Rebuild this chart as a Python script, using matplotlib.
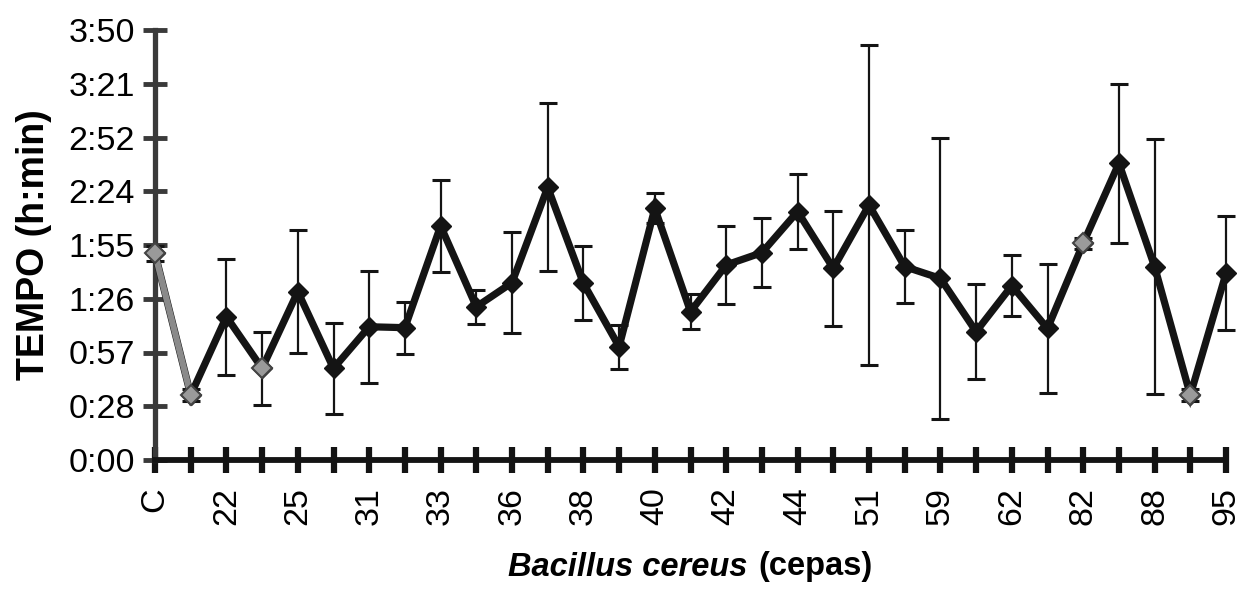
import matplotlib
matplotlib.use("Agg")
import matplotlib.pyplot as plt
from matplotlib.offsetbox import TextArea, HPacker, AnchoredOffsetbox

plt.rcParams['font.family'] = ['Liberation Sans', 'DejaVu Sans']
tick_size = 24.5

# ---- data (minutes) ----
categories = ["C", "", "22", "", "25", "", "31", "", "33", "", "36", "", "38", "",
              "40", "", "42", "", "44", "", "51", "", "59", "", "62", "", "82", "",
              "88", "", "95"]
means = [110.7, 34.8, 76.8, 49.1, 90.2, 49.1, 71.4, 70.9, 125.4, 82.1, 95.0,
         146.1, 94.7, 60.7, 134.8, 79.5, 104.5, 111.1, 133.1, 102.7, 136.6,
         103.6, 97.3, 68.8, 93.4, 70.5, 116.1, 159.0, 103.6, 34.8, 100.0]
errors = [4, 3, 31, 19.6, 33, 24.5, 30, 14, 24.7, 9, 27, 45, 19.7, 11.8, 8, 9.2,
          21, 18.5, 20, 30.8, 85.7, 19.7, 75.3, 25.5, 16.3, 34.7, 3, 42.6, 68.5,
          3, 30.5]
ytick_values = [0, 28.8, 57.6, 86.4, 115.2, 144.0, 172.8, 201.6, 230.4]
ytick_labels = ["0:00", "0:28", "0:57", "1:26", "1:55", "2:24", "2:52", "3:21", "3:50"]
grey_points = [0, 1, 3, 26, 29]

fig = plt.figure(figsize=(12.4, 5.89), dpi=100)
ax = fig.add_axes([155/1240, 1-460/589, (1226-155)/1240, 430/589])

x = list(range(len(means)))
dark = '#141414'
grey = '#8a8a8a'

ax.errorbar(x, means, yerr=errors, fmt='none', ecolor=dark, elinewidth=1.6,
            capsize=6.5, capthick=2.2, zorder=3, clip_on=False)
ax.plot(x, means, color=dark, lw=5.2, zorder=4, clip_on=False,
        marker='D', markersize=10, markerfacecolor=dark, markeredgecolor=dark,
        solid_joinstyle='miter')
# lighter (greyish) segment and markers as in the scan
ax.plot(x[0:2], means[0:2], color=grey, lw=4.5, zorder=5, clip_on=False)
ax.plot([x[i] for i in grey_points], [means[i] for i in grey_points],
        ls='none', marker='D', markersize=10, markerfacecolor='#9a9a9a',
        markeredgecolor='#444444', markeredgewidth=1.5, zorder=6, clip_on=False)

ax.set_xlim(0, len(means) - 1)
ax.set_ylim(0, 230.4)
ax.set_xticks(x)
ax.set_xticklabels(categories, rotation=90, fontsize=tick_size)
ax.set_yticks(ytick_values)
ax.set_yticklabels(ytick_labels, fontsize=tick_size)

for s in ['top', 'right']:
    ax.spines[s].set_visible(False)
ax.spines['left'].set_linewidth(3.8)
ax.spines['left'].set_color('#3a3a3a')
ax.spines['bottom'].set_linewidth(4.2)
ax.spines['bottom'].set_color(dark)

ax.tick_params(axis='x', direction='inout', length=19, width=4.5, color=dark, pad=10)
ax.tick_params(axis='y', direction='inout', length=17, width=3.5, color='#3a3a3a', pad=6)
for t in ax.xaxis.get_ticklines() + ax.yaxis.get_ticklines():
    t.set_solid_capstyle('round')

ax.set_ylabel("TEMPO (h:min)", fontsize=27, fontweight='bold')
ax.yaxis.set_label_coords(-0.096, 0.5)

t1 = TextArea("Bacillus cereus", textprops=dict(fontsize=23.5, fontweight='bold', style='italic'))
t2 = TextArea("(cepas)", textprops=dict(fontsize=23.5, fontweight='bold'))
box = HPacker(children=[t1, t2], align='baseline', pad=0, sep=8)
anch = AnchoredOffsetbox(loc='center', child=box, pad=0, borderpad=0, frameon=False,
                         bbox_to_anchor=(690/1240, 1-567/589),
                         bbox_transform=fig.transFigure)
fig.add_artist(anch)

fig.savefig("out.png", dpi=100)
